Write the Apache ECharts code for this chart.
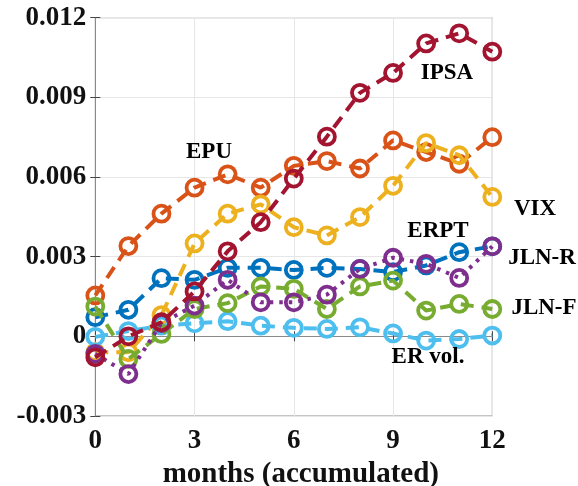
<!DOCTYPE html>
<html><head><meta charset="utf-8">
<script src="https://cdn.jsdelivr.net/npm/echarts@6/dist/echarts.min.js"></script>
<style>html,body{margin:0;padding:0;background:#fff}#c{width:578px;height:486px}</style>
</head><body><div id="c"></div>
<script>
const months = [0,1,2,3,4,5,6,7,8,9,10,11,12];
const yTicks = [-0.003, 0, 0.003, 0.006, 0.009, 0.012];
const xTicks = [0, 3, 6, 9, 12];
const EPU   = [0.00154,0.0034,0.00462,0.0056,0.0061,0.0056,0.00642,0.0066,0.00632,0.00738,0.00694,0.0065,0.0075];
const VIX   = [-0.0006,-0.0006,0.0008,0.0035,0.00462,0.00497,0.00411,0.0038,0.00449,0.00567,0.00728,0.00682,0.00525];
const ERPT  = [0.00072,0.001,0.00219,0.00213,0.00258,0.00258,0.0025,0.00258,0.00254,0.00242,0.00267,0.00317,0.00339];
const ERVOL = [-0.00002,0.0002,0.0004,0.00049,0.00057,0.0004,0.00032,0.00028,0.00034,0.00011,-0.00016,-0.0001,0.00003];
const JLNF  = [0.00112,-0.00085,0.00009,0.00103,0.00125,0.00188,0.00179,0.00103,0.00188,0.0021,0.00097,0.00122,0.00103];
const JLNR  = [-0.00066,-0.00142,0.0005,0.00116,0.00213,0.00128,0.00128,0.00157,0.00254,0.00296,0.00273,0.0022,0.00339];
const IPSA  = [-0.00079,0.0,0.00053,0.00169,0.0032,0.0043,0.00594,0.00752,0.00917,0.00992,0.01103,0.01141,0.01072];

const names = ['EPU','VIX','ERPT','ER vol.','JLN-F','JLN-R','IPSA'];
const datas = [EPU,VIX,ERPT,ERVOL,JLNF,JLNR,IPSA];
const colors = ['#D95319','#EDB120','#0072BD','#4DBEEE','#77AC30','#7E2F8E','#A2142F'];
const dashes = [[13,8],[13,8],[13,8],[13,8],[13,8],[3.5,6],[13,8]];

const FONT = '"Liberation Serif","Times New Roman",serif';
const chart = echarts.init(document.getElementById('c'), null, {renderer:'canvas'});

const series = datas.map((d,i)=>({
  name: names[i], type:'line',
  data: months.map((m,j)=>[m,d[j]]),
  symbol:'circle', symbolSize:16,
  itemStyle:{color:'rgba(0,0,0,0)', borderColor:colors[i], borderWidth:3.8},
  lineStyle:{color:colors[i], width:4, type:dashes[i], cap:'butt'},
  z: 2+i, animation:false
}));

const labels = [
  ['EPU',209,152],['IPSA',447,73],['VIX',535,209],['ERPT',438,231],
  ['JLN-R',542,258],['JLN-F',544,308],['ER vol.',428,357]
];

chart.setOption({
  animation:false,
  grid:{left:95.3, right:578-492.3, top:17.7, bottom:486-416, show:true, borderColor:'#8a8a8a', borderWidth:1,
        containLabel:false, outerBoundsMode:'none'},
  xAxis:[{
    type:'value', min:0, max:12, interval:3,
    axisLine:{show:true, lineStyle:{color:'#8a8a8a', width:1}},
    axisTick:{show:true, inside:true, length:5, lineStyle:{color:'#444'}},
    splitLine:{show:true, lineStyle:{color:'#e6e6e6', width:1}},
    axisLabel:{color:'#111', fontFamily:FONT, fontWeight:'bold', fontSize:27, margin:12},
    name:'months (accumulated)', nameLocation:'middle', nameGap:36,
    nameTextStyle:{color:'#111', fontFamily:FONT, fontWeight:'bold', fontSize:29, padding:[0,0,0,14]}
  },{
    type:'value', min:0, max:12, interval:3, position:'top',
    axisLine:{show:true, lineStyle:{color:'#8a8a8a'}},
    axisTick:{show:true, inside:true, length:5, lineStyle:{color:'#444'}},
    axisLabel:{show:false}, splitLine:{show:false}
  }],
  yAxis:[{
    type:'value', min:-0.003, max:0.012, interval:0.003,
    axisLine:{show:true, lineStyle:{color:'#8a8a8a', width:1}},
    axisTick:{show:true, inside:true, length:5, lineStyle:{color:'#444'}},
    splitLine:{show:true, lineStyle:{color:'#e6e6e6', width:1}},
    axisLabel:{color:'#111', fontFamily:FONT, fontWeight:'bold', fontSize:27, margin:9,
      formatter:v=>{ if (Math.abs(v)<1e-9) return '0'; return v.toFixed(3); }}
  },{
    type:'value', min:-0.003, max:0.012, interval:0.003, position:'right',
    axisLine:{show:true, lineStyle:{color:'#8a8a8a'}},
    axisTick:{show:true, inside:true, length:5, lineStyle:{color:'#444'}},
    axisLabel:{show:false}, splitLine:{show:false}
  }],
  series: series,
  graphic: labels.map(l=>({
    type:'text', x:l[1], y:l[2], z:100,
    style:{text:l[0], fill:'#000', font:'bold 23px '+FONT, align:'center', verticalAlign:'middle'}
  }))
});
</script></body></html>
